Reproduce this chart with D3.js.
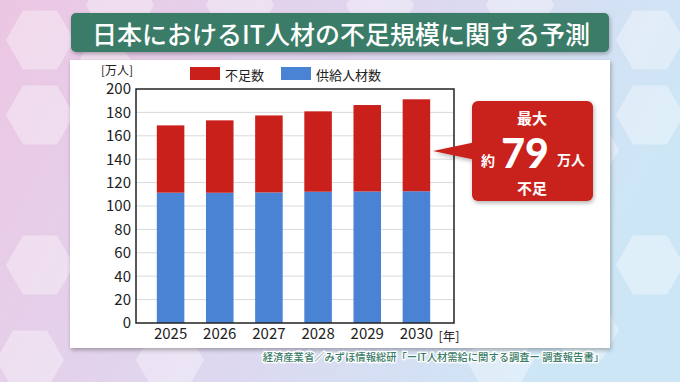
<!DOCTYPE html>
<html><head><meta charset="utf-8">
<script src="https://cdn.jsdelivr.net/npm/d3@7"></script>
<style>html,body{margin:0;padding:0;overflow:hidden;}svg{display:block;}</style>
</head><body>
<script>
const years = ["2025","2026","2027","2028","2029","2030"];
const supply = [111.4, 111.3, 111.6, 112.2, 112.4, 112.6];
const shortage = [57.5, 61.9, 65.8, 68.7, 73.9, 78.6];
const yTicks = [0,20,40,60,80,100,120,140,160,180,200];
const seriesNames = ["不足数","供給人材数"];
const colors = {"不足数":"#c9201b","供給人材数":"#4a82d4"};
const title = "日本におけるIT人材の不足規模に関する予測";
const source = "経済産業省／みずほ情報総研「ーIT人材需給に関する調査ー 調査報告書」";

const W=680,H=382;
const FONT='"Noto Sans CJK JP","Noto Sans",sans-serif';
const svg=d3.select("body").append("svg").attr("width",W).attr("height",H);
const defs=svg.append("defs");
const bg=defs.append("linearGradient").attr("id","bg").attr("x1","0").attr("y1","0").attr("x2","1").attr("y2","0.3");
bg.append("stop").attr("offset","0").attr("stop-color","#ecc6e3");
bg.append("stop").attr("offset","0.5").attr("stop-color","#e0d6ef");
bg.append("stop").attr("offset","1").attr("stop-color","#cde6f6");
svg.append("rect").attr("width",W).attr("height",H).attr("fill","url(#bg)");

// hexagon decorations
const hexes=[[40,40],[40,115],[105,150],[105,75],[40,265],[105,300],[30,360],[170,360],[650,40],[650,115],[585,150],[650,265],[585,330],[500,360],[380,5],[240,5],[120,5],[520,5]];
const hexPath=(cx,cy,r)=>d3.range(6).map(i=>{const a=Math.PI/3*i;return [cx+r*Math.cos(a),cy+r*Math.sin(a)];});
svg.append("g").selectAll("path").data(hexes).join("path")
  .attr("d",d=>"M"+hexPath(d[0],d[1],34).join("L")+"Z")
  .attr("fill","#ffffff").attr("opacity",0.35);

const filt=defs.append("filter").attr("id","sh").attr("x","-20%").attr("y","-20%").attr("width","140%").attr("height","140%");
filt.append("feDropShadow").attr("dx",1).attr("dy",2).attr("stdDeviation",2).attr("flood-color","#000").attr("flood-opacity",0.3);

// title banner
svg.append("rect").attr("x",71).attr("y",13).attr("width",538).attr("height",39).attr("rx",5)
  .attr("fill","#3b7c67").attr("filter","url(#sh)");
svg.append("text").attr("x",341).attr("y",33).attr("text-anchor","middle").attr("dominant-baseline","central")
  .attr("font-family",FONT).attr("font-size",25).attr("font-weight",500).attr("fill","#fff").text(title);

// white panel
svg.append("rect").attr("x",70).attr("y",60).attr("width",540).attr("height",288).attr("fill","#fff").attr("filter","url(#sh)");

const plot={l:136,r:454,t:89,b:323};
const y=d3.scaleLinear().domain([0,200]).range([plot.b,plot.t]);
const x=d3.scaleBand().domain(years).range([146,441]).paddingInner(0.44).paddingOuter(0.22);

// grid
svg.append("g").selectAll("line").data(yTicks.slice(1,-1)).join("line")
  .attr("x1",plot.l).attr("x2",plot.r).attr("y1",d=>y(d)).attr("y2",d=>y(d))
  .attr("stroke","#d9d9d9").attr("stroke-width",1);

// bars
const stack=years.map((yr,i)=>({yr,s:supply[i],h:shortage[i]}));
const g=svg.append("g");
g.selectAll("rect.s").data(stack).join("rect").attr("class","s")
  .attr("x",d=>x(d.yr)).attr("width",x.bandwidth())
  .attr("y",d=>y(d.s)).attr("height",d=>y(0)-y(d.s)).attr("fill",colors["供給人材数"]);
g.selectAll("rect.h").data(stack).join("rect").attr("class","h")
  .attr("x",d=>x(d.yr)).attr("width",x.bandwidth())
  .attr("y",d=>y(d.s+d.h)).attr("height",d=>y(d.s)-y(d.s+d.h)).attr("fill",colors["不足数"]);

// frame
svg.append("rect").attr("x",plot.l).attr("y",plot.t).attr("width",plot.r-plot.l).attr("height",plot.b-plot.t)
  .attr("fill","none").attr("stroke","#222").attr("stroke-width",1.5);

// axes
const yAxis=svg.append("g").attr("transform",`translate(${plot.l},0)`)
  .call(d3.axisLeft(y).tickValues(yTicks).tickSize(0).tickPadding(5));
yAxis.select(".domain").remove();
yAxis.selectAll("text").attr("font-family",FONT).attr("font-size",15).attr("fill","#222");
const xAxis=svg.append("g").attr("transform",`translate(0,${plot.b})`)
  .call(d3.axisBottom(x).tickSize(0).tickPadding(5));
xAxis.select(".domain").remove();
xAxis.selectAll("text").attr("font-family",FONT).attr("font-size",15).attr("fill","#222");

svg.append("text").attr("x",117).attr("y",69).attr("text-anchor","middle").attr("dominant-baseline","central")
  .attr("font-family",FONT).attr("font-size",12).attr("fill","#222").text("[万人]");
svg.append("text").attr("x",449).attr("y",335).attr("text-anchor","middle").attr("dominant-baseline","central")
  .attr("font-family",FONT).attr("font-size",12.5).attr("fill","#222").text("[年]");

// legend
const leg=[{n:"不足数",x:190},{n:"供給人材数",x:281}];
const lg=svg.append("g");
lg.selectAll("rect").data(leg).join("rect").attr("x",d=>d.x).attr("y",67).attr("width",30).attr("height",13).attr("fill",d=>colors[d.n]);
lg.selectAll("text").data(leg).join("text").attr("x",d=>d.x+35).attr("y",74).attr("dominant-baseline","central")
  .attr("font-family",FONT).attr("font-size",13).attr("fill","#222").text(d=>d.n);

// callout
const cg=svg.append("g").attr("filter","url(#sh)");
cg.append("path").attr("d","M433,151 L476,142 L476,160 Z").attr("fill","#c9201b");
cg.append("rect").attr("x",472).attr("y",101).attr("width",121).attr("height",100).attr("rx",6).attr("fill","#c9201b");
const ct=svg.append("g").attr("font-family",FONT).attr("fill","#fff").attr("font-weight",700);
ct.append("text").attr("x",532).attr("y",117).attr("text-anchor","middle").attr("dominant-baseline","central").attr("font-size",15).text("最大");
ct.append("text").attr("x",488).attr("y",160).attr("text-anchor","middle").attr("dominant-baseline","central").attr("font-size",14).text("約");
ct.append("text").attr("x",525).attr("y",152).attr("text-anchor","middle").attr("dominant-baseline","central")
  .attr("font-family","Lato, sans-serif").attr("font-size",41).attr("font-weight",900).text("79");
ct.append("text").attr("x",571).attr("y",159).attr("text-anchor","middle").attr("dominant-baseline","central").attr("font-size",14).text("万人");
ct.append("text").attr("x",532).attr("y",187).attr("text-anchor","middle").attr("dominant-baseline","central").attr("font-size",15).text("不足");

// source
svg.append("text").attr("x",604).attr("y",356).attr("text-anchor","end").attr("dominant-baseline","central")
  .attr("font-family",FONT).attr("font-size",10.3).attr("font-weight",500).attr("fill","#3b7c67")
  .attr("stroke","#fff").attr("stroke-width",2.5).attr("paint-order","stroke").text(source);
</script>
</body></html>
